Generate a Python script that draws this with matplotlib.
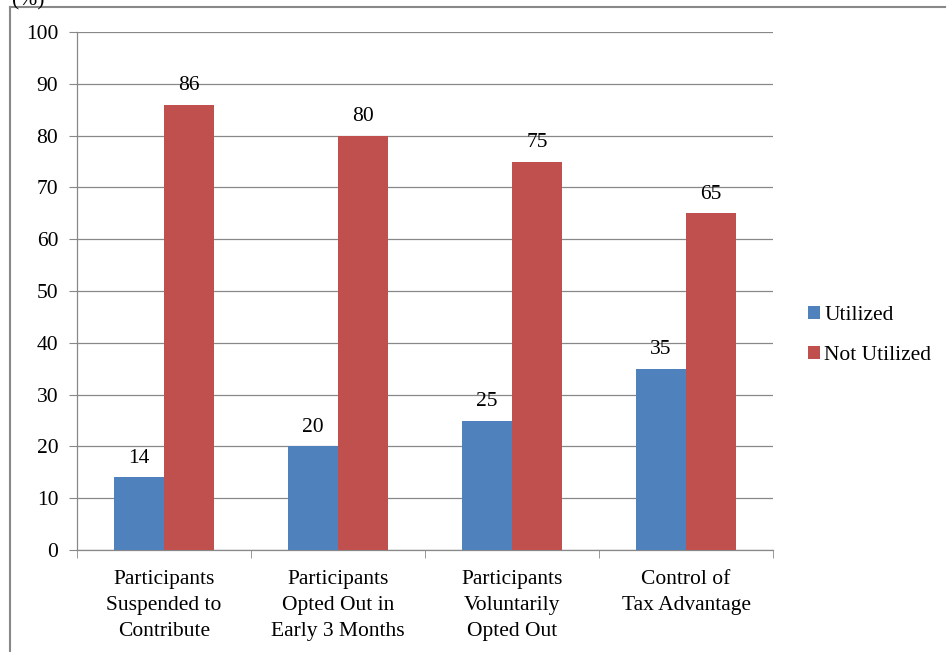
import matplotlib
matplotlib.use("Agg")
import matplotlib.pyplot as plt
from matplotlib.lines import Line2D
import numpy as np

categories = ["Participants\nSuspended to\nContribute",
              "Participants\nOpted Out in\nEarly 3 Months",
              "Participants\nVoluntarily\nOpted Out",
              "Control of\nTax Advantage"]
utilized = [14, 20, 25, 35]
not_utilized = [86, 80, 75, 65]
yticks = [0, 10, 20, 30, 40, 50, 60, 70, 80, 90, 100]

plt.rcParams['font.family'] = ['Liberation Serif', 'DejaVu Serif']
FS = 15.5

fig = plt.figure(figsize=(9.47, 6.52), dpi=100)
ax = fig.add_axes([77/947, 1-550/652, (773-77)/947, (550-32)/652])

x = np.arange(len(categories))
w = 0.2875
b1 = ax.bar(x - w/2, utilized, w, color="#4F81BD", label="Utilized", zorder=3)
b2 = ax.bar(x + w/2, not_utilized, w, color="#C0504D", label="Not Utilized", zorder=3)
for bars, vals in ((b1, utilized), (b2, not_utilized)):
    for r, v in zip(bars, vals):
        ax.annotate(str(v), (r.get_x() + r.get_width()/2, v), xytext=(0, 7),
                    textcoords="offset points", ha="center", va="bottom", fontsize=FS)

ax.set_xlim(-0.5, len(categories) - 0.5)
ax.set_ylim(0, 100)
ax.set_yticks(yticks)
ax.set_yticklabels([str(t) for t in yticks], fontsize=FS)
ax.yaxis.grid(True, color="#888888", linewidth=0.9, zorder=0)
ax.set_xticks(x)
ax.set_xticklabels(categories, fontsize=FS, linespacing=1.5)
ax.tick_params(axis="x", which="major", length=0, pad=14.5)
ax.set_xticks(np.arange(-0.5, len(categories)), minor=True)
ax.tick_params(axis="x", which="minor", length=6, color="#888888")
ax.tick_params(axis="y", length=6, color="#888888", pad=7.5)
for s in ("top", "right"):
    ax.spines[s].set_visible(False)
for s in ("left", "bottom"):
    ax.spines[s].set_color("#888888")
    ax.spines[s].set_linewidth(0.9)

ax.legend(loc="center left", bbox_to_anchor=(1.038, 0.414), frameon=False,
          fontsize=FS, handlelength=0.55, handleheight=0.55, handletextpad=0.2,
          labelspacing=1.0, borderaxespad=0)

# outer frame
W, H = 947, 652
fig.add_artist(Line2D([10/W, 10/W], [0, 1-7/H], color="#888888", lw=1.5, transform=fig.transFigure))
fig.add_artist(Line2D([10/W, 945/W], [1-7/H, 1-7/H], color="#888888", lw=1.5, transform=fig.transFigure))
fig.text(12/W, 1-1/H, "(%)", fontsize=FS, ha="left", va="center")

fig.savefig("out.png", dpi=100)
